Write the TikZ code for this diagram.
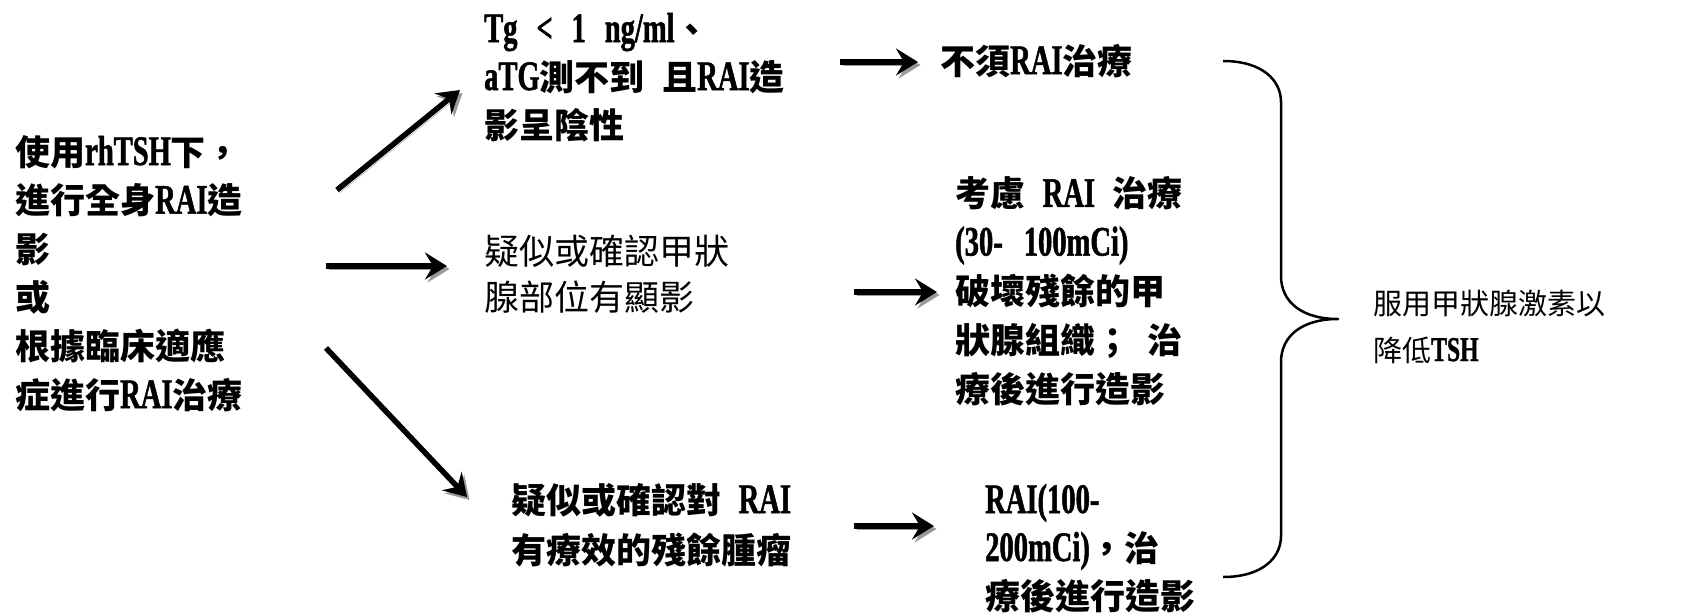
\documentclass[tikz,border=0pt]{standalone}
\usepackage{fontspec}
\setmainfont{Noto Sans CJK TC}
\newfontfamily\lat{Liberation Serif}[Scale=1.2,FakeStretch=0.68,BoldFeatures={FakeBold=1.2}]
\usetikzlibrary{arrows.meta}
\newcommand\hs{\hspace{0.5em}}
\newcommand\la[1]{{\lat #1}}
\begin{document}
\begin{tikzpicture}[x=1pt,y=-1pt,
  txt/.style={inner sep=0pt, anchor=base west, align=left},
  bt/.style={txt, font=\fontsize{35}{#1}\selectfont\bfseries},
  rt/.style={txt, font=\fontsize{35}{#1}\selectfont},
  arr/.style={line width=5.5pt, -{Stealth[length=22pt,width=27pt,inset=8pt]},
    preaction={draw=black!40, transform canvas={shift={(2.5pt,-3pt)}}}},
  brace/.style={line width=2.5pt, line join=round}]
\useasboundingbox (0,0) rectangle (1684,614);

% text nodes (anchored at the baseline of their last line)
\node[bt=48.6] (start) at (15,408) {使用\la{rhTSH}下，\\進行全身\la{RAI}造\\影\\或\\根據臨床適應\\症進行\la{RAI}治療};
\node[bt=48] (neg) at (484,138) {\la{Tg\hspace{0.45em}<\hspace{0.45em}1\hspace{0.45em}ng/ml}、\\\la{aTG}測不到\hs 且\la{RAI}造\\影呈陰性};
\node[rt=46] (thy) at (484,310) {疑似或確認甲狀\\腺部位有顯影};
\node[bt=50] (tum) at (511,563) {疑似或確認對\hs\la{RAI}\\有療效的殘餘腫瘤};
\node[bt=48] (none) at (940,74) {不須\la{RAI}治療};
\node[bt=48.8] (abl) at (955,402) {考慮\hs\la{RAI}\hs 治療\\\la{(30-\hs 100mCi)}\\破壞殘餘的甲\\狀腺組織；\hs 治\\療後進行造影};
\node[bt=48] (high) at (985,609) {\la{RAI(100-}\\\la{200mCi)}，治\\療後進行造影};
\node[txt, font=\fontsize{29}{47}\selectfont] (tsh) at (1373,361) {服用甲狀腺激素以\\降低\textbf{\la{TSH}}};

% arrow end points
\coordinate (a1s) at (337,190); \coordinate (a1e) at (460,90);
\coordinate (a2s) at (326,266); \coordinate (a2e) at (447,266);
\coordinate (a3s) at (326,348); \coordinate (a3e) at (467,497);
\coordinate (a4s) at (840,62);  \coordinate (a4e) at (918,62);
\coordinate (a5s) at (854,292); \coordinate (a5e) at (937,292);
\coordinate (a6s) at (854,526); \coordinate (a6e) at (934,526);

\draw[arr] (a1s) -- (a1e);
\draw[arr] (a2s) -- (a2e);
\draw[arr] (a3s) -- (a3e);
\draw[arr] (a4s) -- (a4e);
\draw[arr] (a5s) -- (a5e);
\draw[arr] (a6s) -- (a6e);

% brace
\coordinate (btop) at (1223,61);
\coordinate (btip) at (1338,319);
\coordinate (bbot) at (1223,577);
\draw[brace] (btop) .. controls (1262,61) and (1281,80) .. (1281,102)
  -- (1281,276) .. controls (1281,302) and (1302,319) .. (btip)
  .. controls (1302,319) and (1281,336) .. (1281,362)
  -- (1281,536) .. controls (1281,558) and (1262,577) .. (bbot);
\end{tikzpicture}
\end{document}
